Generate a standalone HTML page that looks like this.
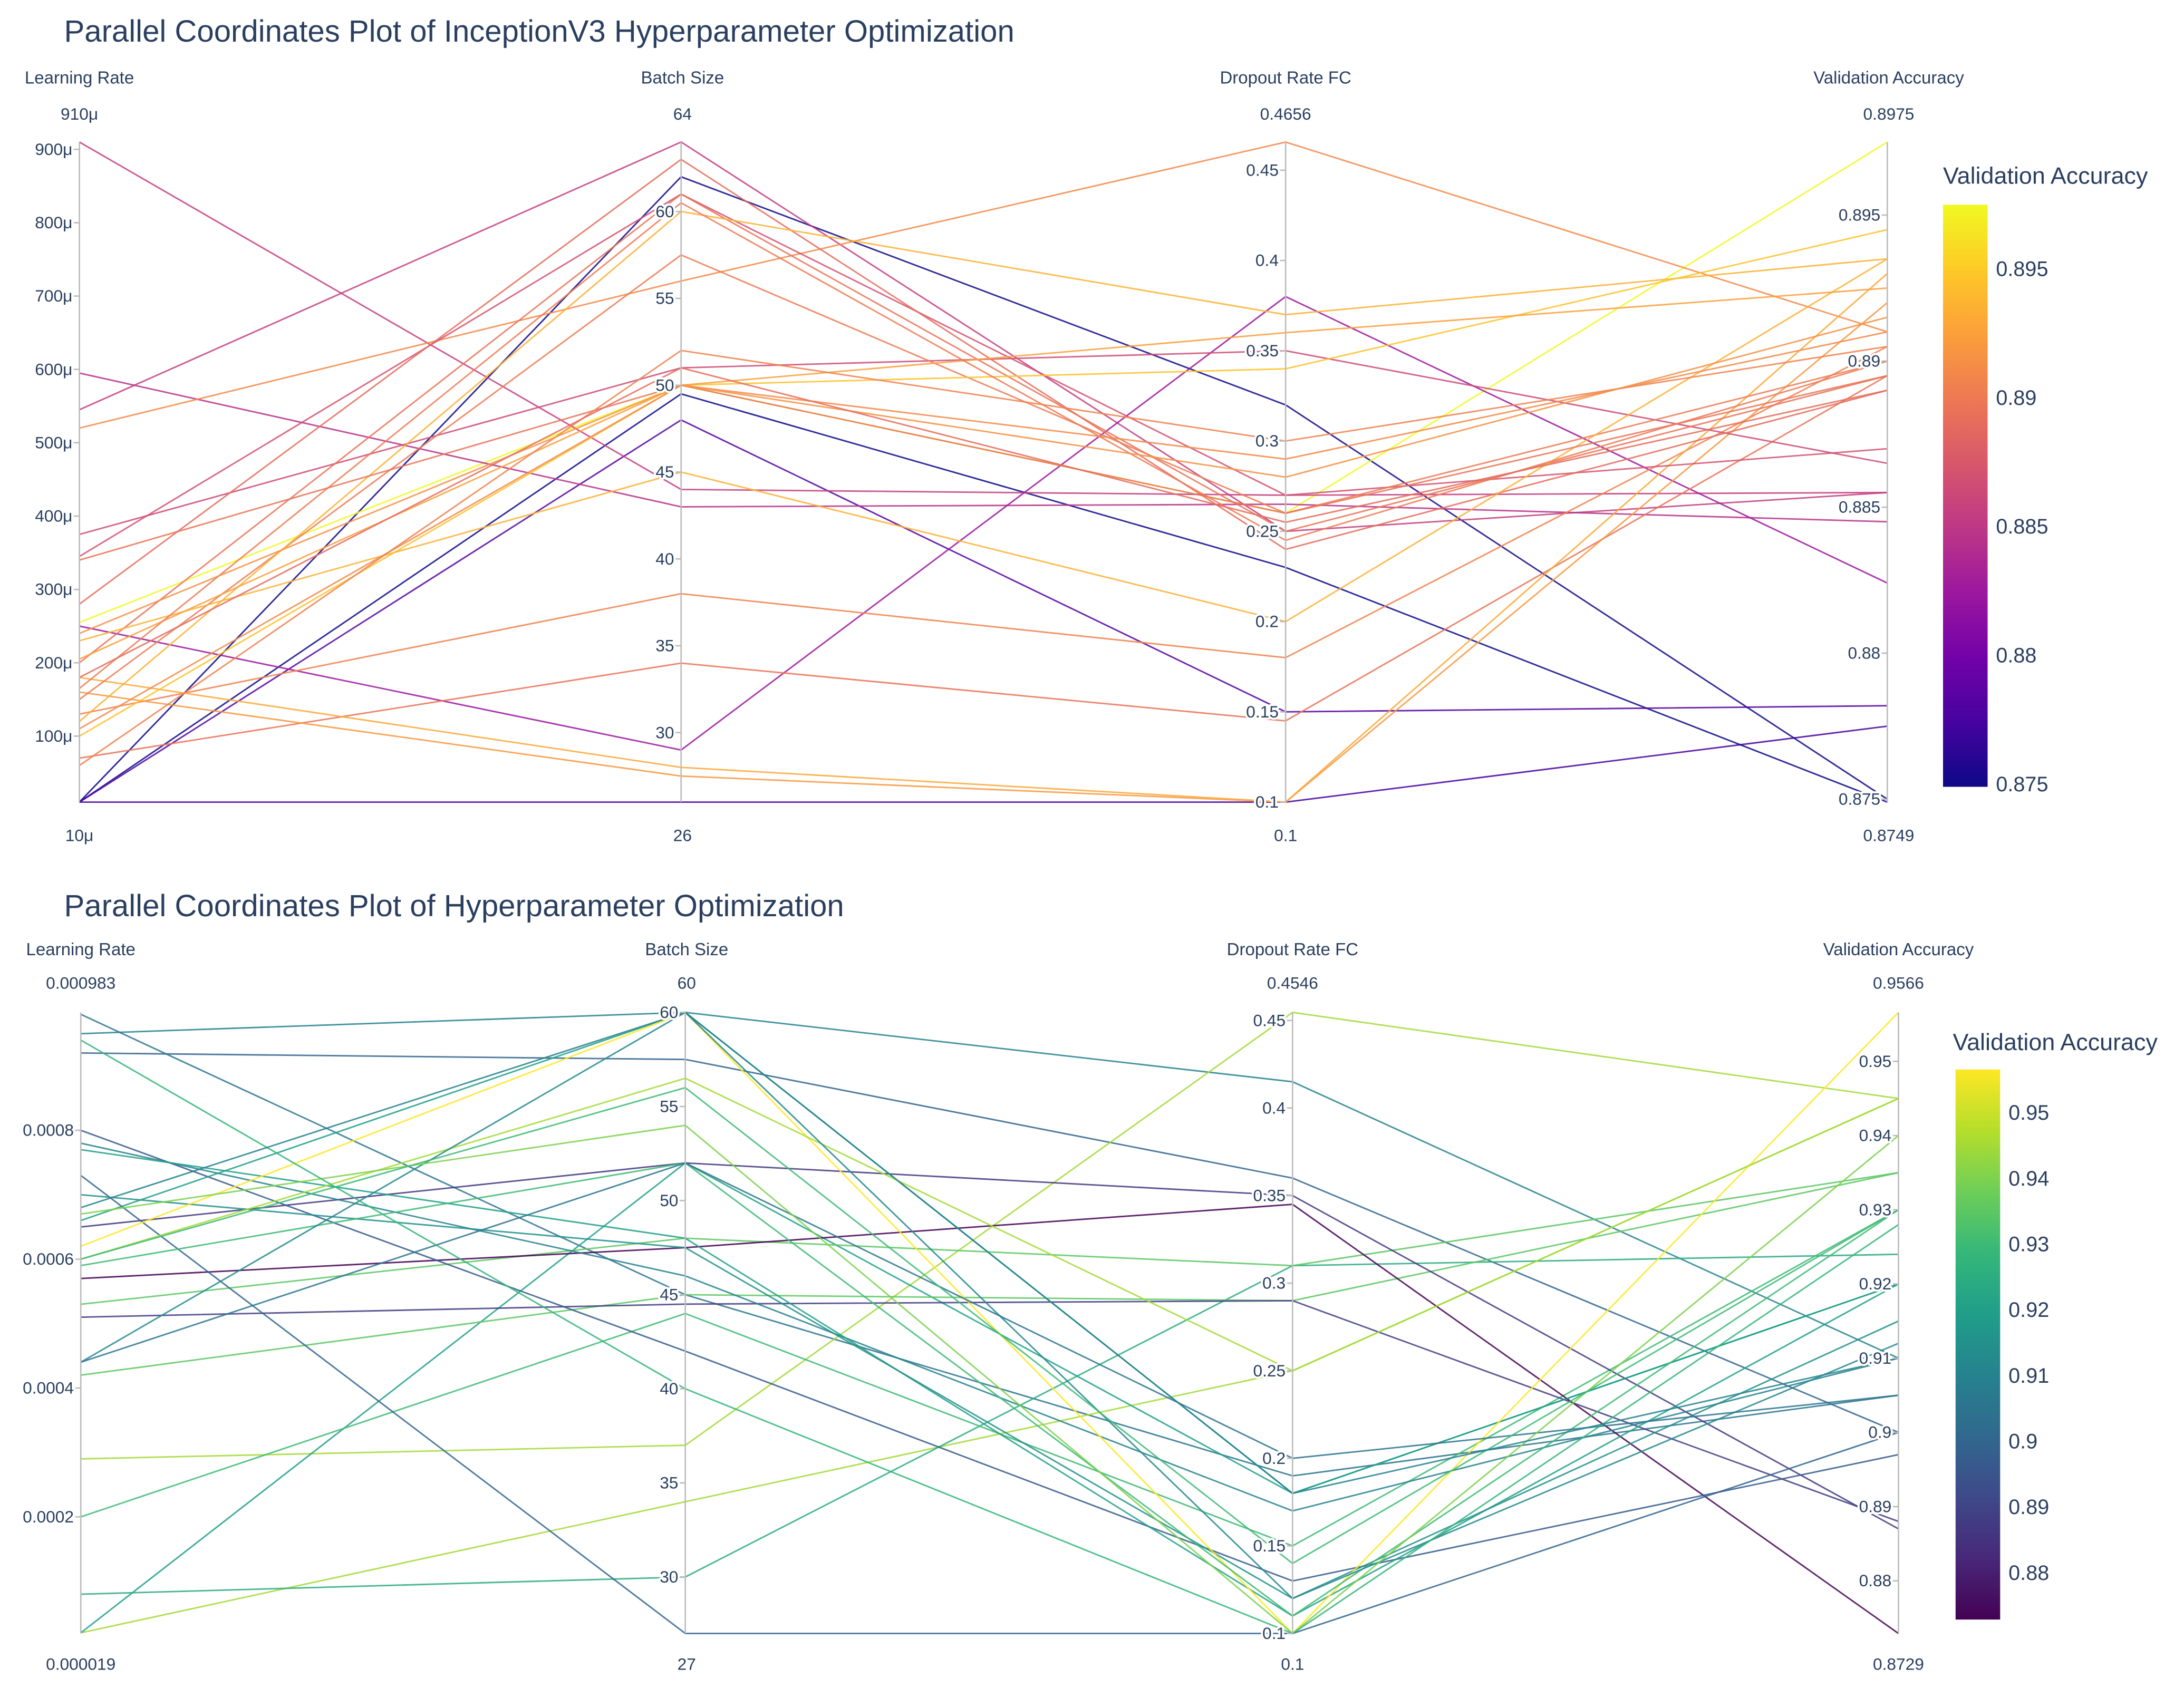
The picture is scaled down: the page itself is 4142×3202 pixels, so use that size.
<!DOCTYPE html>
<html><head><meta charset="utf-8">
<style>
html,body{margin:0;padding:0;background:#fff;}
svg{display:block;font-family:"Liberation Sans","DejaVu Sans",sans-serif;}
</style></head>
<body>
<svg id="root" width="4142" height="3202" viewBox="0 0 1568 1212.15" xmlns="http://www.w3.org/2000/svg">
<rect width="1568" height="1212.15" fill="#fff"/>
<defs>
<linearGradient id="plasmaG" x1="0" y1="1" x2="0" y2="0">
<stop offset="0" stop-color="#0d0887"/><stop offset="0.111" stop-color="#46039f"/><stop offset="0.222" stop-color="#7201a8"/><stop offset="0.333" stop-color="#9c179e"/><stop offset="0.444" stop-color="#bd3786"/><stop offset="0.556" stop-color="#d8576b"/><stop offset="0.667" stop-color="#ed7953"/><stop offset="0.778" stop-color="#fb9f3a"/><stop offset="0.889" stop-color="#fdca26"/><stop offset="1" stop-color="#f0f921"/>
</linearGradient>
<linearGradient id="viridisG" x1="0" y1="1" x2="0" y2="0">
<stop offset="0" stop-color="#440154"/><stop offset="0.111" stop-color="#482878"/><stop offset="0.222" stop-color="#3e4989"/><stop offset="0.333" stop-color="#31688e"/><stop offset="0.444" stop-color="#26828e"/><stop offset="0.556" stop-color="#1f9e89"/><stop offset="0.667" stop-color="#35b779"/><stop offset="0.778" stop-color="#6ece58"/><stop offset="0.889" stop-color="#b5de2b"/><stop offset="1" stop-color="#fde725"/>
</linearGradient>
</defs>
<g id="top"></g>
<g id="bottom"></g>
</svg>
<script>
// ---------- Top chart data ----------
const topLR = [10,10,10,10,255,545,910,595,520,250,130,70,160,180,375,345,280,200,150,120,100,230,205,340,165,110,60,240,180];
const topBS = [26,62,49.5,48,50,64,44,43,56,29,38,34,27.5,28,51,61,63,61,57.5,60,50,45,50,50,60.5,50,52,50,51];
const topDR = [0.1,0.32,0.23,0.15,0.26,0.25,0.27,0.265,0.4656,0.38,0.18,0.145,0.1,0.1,0.35,0.27,0.24,0.25,0.26,0.37,0.34,0.2,0.36,0.26,0.245,0.29,0.3,0.28,0.255];
const topVA = [0.8775,0.875,0.8749,0.8782,0.8975,0.8855,0.8855,0.8845,0.891,0.8824,0.8905,0.8895,0.892,0.893,0.8865,0.887,0.889,0.8895,0.89,0.8935,0.8945,0.8935,0.8925,0.8895,0.89,0.891,0.8905,0.8915,0.889];
const topLRTicks = [100,200,300,400,500,600,700,800,900];
const topBSTicks = [30,35,40,45,50,55,60];
const topDRTicks = [0.1,0.15,0.2,0.25,0.3,0.35,0.4,0.45];
const topVATicks = [0.875,0.88,0.885,0.89,0.895];
const topCBTicks = [0.875,0.88,0.885,0.89,0.895];

// ---------- Bottom chart data ----------
const botLR = [0.00095,0.00092,0.00098,0.00029,0.00002,0.00002,0.00008,0.0002,0.00042,0.00053,0.00057,0.00051,0.00065,0.00073,0.0008,0.00078,0.00077,0.0007,0.00066,0.00062,0.0006,0.00059,0.00044,0.00044,0.00067,0.0006,0.00094,0.00068];
const botBS = [60,57.5,45,37,34,52,30,44,45,48,47.5,44.5,52,27,42,46,48,47.5,60,60,56.5,52,60,52,54,56,40,60];
const botDR = [0.415,0.36,0.19,0.4546,0.25,0.18,0.31,0.15,0.29,0.31,0.345,0.29,0.35,0.1,0.13,0.17,0.11,0.12,0.18,0.1,0.25,0.11,0.12,0.2,0.1,0.14,0.1,0.18];
const botVA = [0.91,0.9,0.905,0.945,0.945,0.92,0.924,0.93,0.935,0.935,0.8729,0.888,0.887,0.9,0.897,0.91,0.92,0.915,0.92,0.9566,0.945,0.93,0.912,0.905,0.94,0.93,0.928,0.91];
const botLRTicks = [0.0002,0.0004,0.0006,0.0008];
const botBSTicks = [30,35,40,45,50,55,60];
const botDRTicks = [0.1,0.15,0.2,0.25,0.3,0.35,0.4,0.45];
const botVATicks = [0.88,0.89,0.9,0.91,0.92,0.93,0.94,0.95];
const botCBTicks = [0.88,0.89,0.9,0.91,0.92,0.93,0.94,0.95];

const NS = "http://www.w3.org/2000/svg";
const PLASMA = ["#0d0887","#46039f","#7201a8","#9c179e","#bd3786","#d8576b","#ed7953","#fb9f3a","#fdca26","#f0f921"];
const VIRIDIS = ["#440154","#482878","#3e4989","#31688e","#26828e","#1f9e89","#35b779","#6ece58","#b5de2b","#fde725"];
function hex(h){return [parseInt(h.substr(1,2),16),parseInt(h.substr(3,2),16),parseInt(h.substr(5,2),16)];}
function cs(scale,t){t=Math.max(0,Math.min(1,t));const p=t*(scale.length-1);const i=Math.min(Math.floor(p),scale.length-2);const f=p-i;const a=hex(scale[i]),b=hex(scale[i+1]);return "rgb("+a.map((v,k)=>Math.round(v+(b[k]-v)*f)).join(",")+")";}
function el(tag,attrs,parent){const e=document.createElementNS(NS,tag);for(const k in attrs)e.setAttribute(k,attrs[k]);parent.appendChild(e);return e;}
function txt(parent,x,y,s,size,anchor,fill,halo){
  if(halo){const h=el("text",{x:x,y:y,"font-size":size,"text-anchor":anchor,fill:"#fff",stroke:"#fff","stroke-width":3,"stroke-linejoin":"round"},parent);h.textContent=s;}
  const t=el("text",{x:x,y:y,"font-size":size,"text-anchor":anchor,fill:fill||"#2a3f5f"},parent);t.textContent=s;return t;}

function draw(g,cfg){
  const T=el("text",{x:cfg.titleX,y:cfg.titleY,"font-size":22,fill:"#2a3f5f"},g);
  T.textContent=cfg.title;
  
  
  const yTop=cfg.yTop,yBot=cfg.yBot;
  const axes=cfg.axes;
  function sc(ax,v){return yBot-(v-ax.min)/(ax.max-ax.min)*(yBot-yTop);}
  const lg=el("g",{},g);
  
  
  const n=cfg.color.length;
  for(let i=0;i<n;i++){
    const pts=axes.map(ax=>ax.x+","+sc(ax,ax.data[i]).toFixed(2)).join(" ");
    const c=cs(cfg.scale,(cfg.color[i]-cfg.cmin)/(cfg.cmax-cfg.cmin));
    const pl=el("polyline",{points:pts,fill:"none",stroke:c,"stroke-width":1.1,"stroke-opacity":0.85},lg);
    
    
  }
  axes.forEach(ax=>{
    const ag=el("g",{},g);
    
    
    el("line",{x1:ax.x,y1:yTop,x2:ax.x,y2:yBot,stroke:"#bbb","stroke-width":1},ag);
    ax.ticks.forEach((tv,j)=>{
      const y=sc(ax,tv);
      el("line",{x1:ax.x-4,y1:y,x2:ax.x,y2:y,stroke:"#bbb","stroke-width":1},ag);
      const t=txt(ag,ax.x-5,y+4,ax.fmt(tv),12,"end","#2a3f5f",true);
      
      
    });
    const l=txt(ag,ax.x+ax.labelDx,cfg.labelY,ax.label,12.5,"middle");
    
    
    const a=txt(ag,ax.x+ax.labelDx,cfg.maxY,ax.maxLabel,12,"middle");
    
    
    const b=txt(ag,ax.x+ax.labelDx,cfg.minY,ax.minLabel,12,"middle");
    
    
  });
  const cb=el("g",{},g);
  
  
  const ct=txt(cb,cfg.cbTitleX,cfg.cbTitleY,"Validation Accuracy",17,"start");
  
  
  el("rect",{x:cfg.cbX,y:cfg.cbTop,width:32,height:cfg.cbBot-cfg.cbTop,fill:"url(#"+cfg.grad+")"},cb);
  cfg.cbTicks.forEach(tv=>{
    const y=cfg.cbBot-(tv-cfg.cmin)/(cfg.cmax-cfg.cmin)*(cfg.cbBot-cfg.cbTop);
    const t=txt(cb,cfg.cbX+38,y+5,cfg.cbFmt(tv),15,"start");
    
    
  });
}

draw(document.getElementById("top"),{
  title:"Parallel Coordinates Plot of InceptionV3 Hyperparameter Optimization",titleX:46,titleY:30,
  yTop:102,yBot:576,labelY:60,maxY:86,minY:604,scale:PLASMA,grad:"plasmaG",
  color:topVA,cmin:0.8749,cmax:0.8975,cbX:1395,cbTop:147,cbBot:565,cbTitleX:1395,cbTitleY:132,
  cbTicks:topCBTicks,cbFmt:v=>String(+v.toFixed(3)),
  axes:[
    {name:"learning-rate-axis",x:57,label:"Learning Rate",labelDx:0,min:10,max:910,data:topLR,ticks:topLRTicks,fmt:v=>v+"\u03bc",maxLabel:"910\u03bc",minLabel:"10\u03bc"},
    {name:"batch-size-axis",x:489,label:"Batch Size",labelDx:1,min:26,max:64,data:topBS,ticks:topBSTicks,fmt:v=>String(v),maxLabel:"64",minLabel:"26"},
    {name:"dropout-axis",x:923,label:"Dropout Rate FC",labelDx:0,min:0.1,max:0.4656,data:topDR,ticks:topDRTicks,fmt:v=>String(+v.toFixed(2)),maxLabel:"0.4656",minLabel:"0.1"},
    {name:"validation-accuracy-axis",x:1355,label:"Validation Accuracy",labelDx:1,min:0.8749,max:0.8975,data:topVA,ticks:topVATicks,fmt:v=>String(+v.toFixed(3)),maxLabel:"0.8975",minLabel:"0.8749"}
  ]
});
draw(document.getElementById("bottom"),{
  title:"Parallel Coordinates Plot of Hyperparameter Optimization",titleX:46,titleY:658,
  yTop:727,yBot:1173,labelY:686,maxY:710,minY:1199,scale:VIRIDIS,grad:"viridisG",
  color:botVA,cmin:0.8729,cmax:0.9566,cbX:1404,cbTop:768,cbBot:1163,cbTitleX:1402,cbTitleY:754,
  cbTicks:botCBTicks,cbFmt:v=>String(+v.toFixed(2)),
  axes:[
    {name:"learning-rate-axis",x:58,label:"Learning Rate",labelDx:0,min:0.000019,max:0.000983,data:botLR,ticks:botLRTicks,fmt:v=>v.toFixed(4),maxLabel:"0.000983",minLabel:"0.000019"},
    {name:"batch-size-axis",x:492,label:"Batch Size",labelDx:1,min:27,max:60,data:botBS,ticks:botBSTicks,fmt:v=>String(v),maxLabel:"60",minLabel:"27"},
    {name:"dropout-axis",x:928,label:"Dropout Rate FC",labelDx:0,min:0.1,max:0.4546,data:botDR,ticks:botDRTicks,fmt:v=>String(+v.toFixed(2)),maxLabel:"0.4546",minLabel:"0.1"},
    {name:"validation-accuracy-axis",x:1363,label:"Validation Accuracy",labelDx:0,min:0.8729,max:0.9566,data:botVA,ticks:botVATicks,fmt:v=>String(+v.toFixed(2)),maxLabel:"0.9566",minLabel:"0.8729"}
  ]
});
</script>
</body></html>
